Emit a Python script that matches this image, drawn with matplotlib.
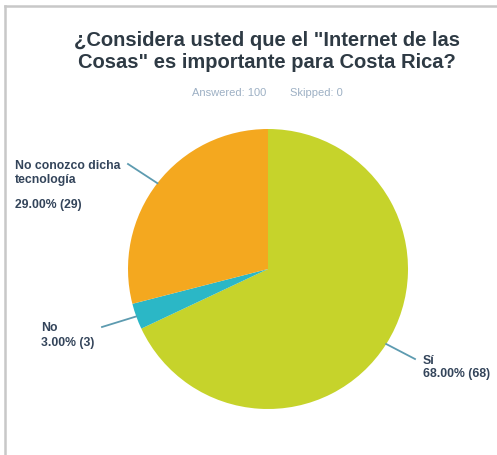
import matplotlib
matplotlib.use("Agg")
import matplotlib.pyplot as plt
import numpy as np
from matplotlib.lines import Line2D

W, H = 497, 456

answers = ["Sí", "No", "No conozco dicha\ntecnología"]
counts = [68, 3, 29]
percents = [68.00, 3.00, 29.00]
colors = ["#c6d32b", "#2bb7c6", "#f4a81f"]
answered, skipped = 100, 0

title_lines = ['¿Considera usted que el "Internet de las',
               'Cosas" es importante para Costa Rica?']

fig = plt.figure(figsize=(W / 100, H / 100), dpi=100, facecolor="white")

# light gray frame on the left and top edges
fig.add_artist(Line2D([5 / W, 5 / W], [0, 1 - 7 / H], color="#c8c8c8", lw=1.8,
                      transform=fig.transFigure))
fig.add_artist(Line2D([5 / W, 1], [1 - 7 / H, 1 - 7 / H], color="#c8c8c8", lw=1.8,
                      transform=fig.transFigure))


def px(x, y):
    return x / W, 1 - y / H


for i, line in enumerate(title_lines):
    fig.text(*px(267, 41 + 22 * i), line, ha="center", va="center", fontsize=14.5,
             fontweight="bold", color="#2e3a44", family="Liberation Sans")
fig.text(*px(229, 93), f"Answered: {answered}", ha="center", va="center",
         fontsize=8, color="#9db0c4", family="Liberation Sans")
fig.text(*px(316, 93), f"Skipped: {skipped}", ha="center", va="center",
         fontsize=8, color="#9db0c4", family="Liberation Sans")

# pie placed by pixel centre / radius
cx, cy, r = 268, 270, 140
ax = fig.add_axes([(cx - r) / W, (H - cy - r) / H, 2 * r / W, 2 * r / H])
wedges, _ = ax.pie(counts, colors=colors, startangle=90, counterclock=False,
                   radius=1.0, wedgeprops=dict(linewidth=0))
ax.set_xlim(-1, 1)
ax.set_ylim(-1, 1)
ax.set_aspect("equal")
ax.axis("off")

label_ends = [(415, 360), (102, 328), (128, 165)]
# (x, y of each text line centre)
label_lines = [
    [(423, 361), (423, 374)],
    [(41, 328), (41, 343)],
    [(15, 166), (15, 180), (15, 205)],
]
lc = "#5d9bb0"
tc = "#33445a"

for w, end, rows, name, pct, n in zip(wedges, label_ends, label_lines, answers, percents, counts):
    mid = np.deg2rad((w.theta1 + w.theta2) / 2)
    x0, y0 = np.cos(mid), np.sin(mid)
    x1, y1 = (end[0] - cx) / r, (cy - end[1]) / r
    ax.plot([x0, x1], [y0, y1], color=lc, lw=1.3, clip_on=False)
    texts = name.split("\n") + [f"{pct:.2f}% ({n})"]
    for (tx, ty), s in zip(rows, texts):
        fig.text(*px(tx, ty), s, ha="left", va="center", fontsize=8.8,
                 fontweight="bold", color=tc, family="Liberation Sans")

fig.savefig("out.png", dpi=100, facecolor="white")
